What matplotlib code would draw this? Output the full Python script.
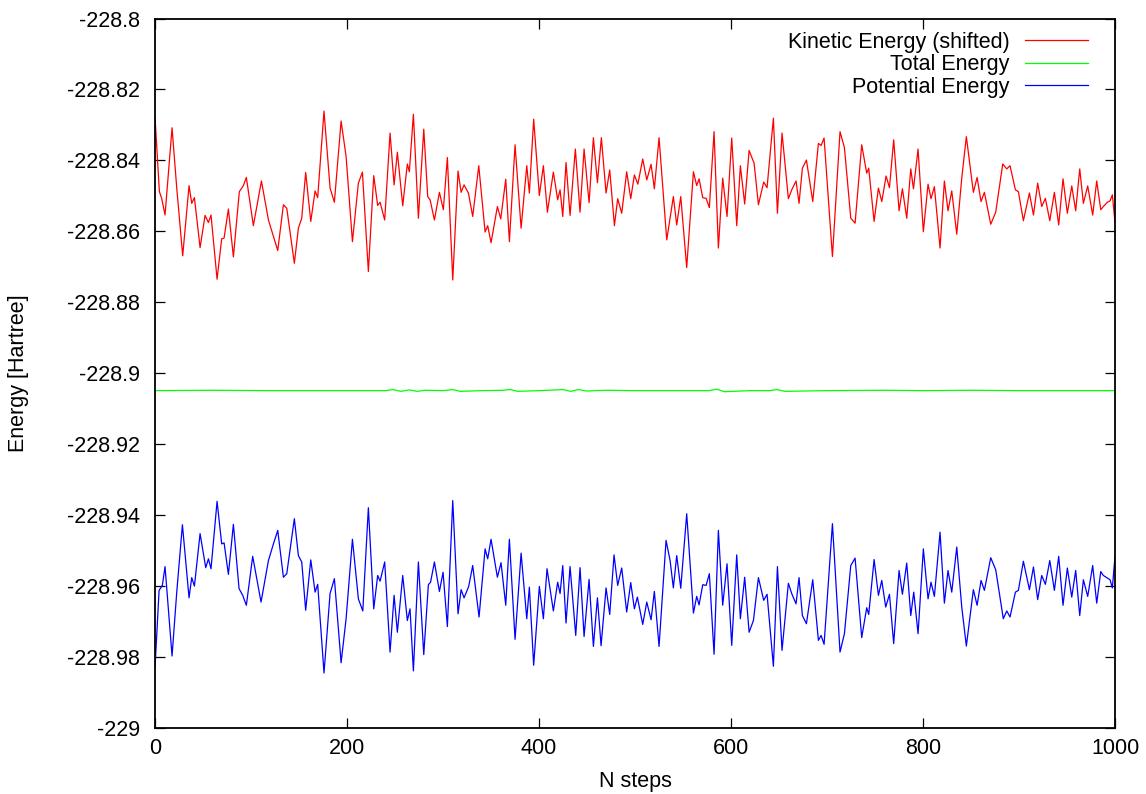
import matplotlib
matplotlib.use('Agg')
import matplotlib.pyplot as plt
from matplotlib.ticker import MultipleLocator, FormatStrFormatter

plt.rcParams['font.family'] = ['Liberation Sans', 'DejaVu Sans']

# Kinetic energy (shifted) at its turning points
ke_steps = [0, 4.5, 6.9, 10.4, 17.7, 22.6, 28.8, 35.4, 38.2, 41.0, 46.9, 52.1, 55.6, 58.3,
            64.6, 69.4, 71.9, 76.4, 81.6, 87.8, 92.0, 95.1, 102.4, 110.8, 118.1, 127.8,
            133.7, 137.2, 145.1, 149.3, 152.8, 156.9, 162.2, 166.7, 169.4, 176.0, 182.3,
            186.8, 193.8, 199.0, 205.6, 211.8, 216.0, 222.2, 227.8, 231.9, 234.4, 239.2,
            244.8, 249.0, 252.4, 258.0, 262.8, 264.9, 269.1, 274.3, 279.9, 284.0, 286.5,
            291.0, 296.2, 300.3, 304.5, 310.1, 315.6, 318.8, 321.9, 326.4, 330.9, 337.2,
            343.8, 346.5, 350.0, 356.6, 360.1, 365.3, 369.1, 375.0, 381.3, 387.2, 389.9,
            394.4, 400.3, 404.5, 408.7, 414.9, 419.4, 421.9, 424.7, 428.1, 432.3, 437.8,
            442.7, 446.9, 452.1, 456.6, 460.8, 464.9, 469.8, 473.6, 478.5, 481.9, 486.1,
            491.3, 495.5, 499.3, 502.9, 508.0, 512.2, 516.7, 520.1, 525.0, 533.0, 539.9,
            543.4, 547.6, 553.8, 560.8, 564.2, 566.7, 570.5, 574.0, 577.4, 582.3, 586.8,
            591.3, 595.8, 600.7, 605.9, 609.7, 614.2, 618.8, 624.0, 628.5, 634.0, 637.5,
            644.1, 648.3, 653.1, 659.7, 663.2, 667.7, 670.8, 674.3, 678.5, 685.1, 691.0,
            693.8, 696.9, 705.6, 713.5, 718.1, 724.7, 729.2, 736.1, 741.3, 743.4, 749.0,
            753.5, 757.0, 761.5, 765.0, 769.4, 775.0, 778.5, 783.0, 787.2, 790.0, 794.8,
            800.3, 805.2, 808.3, 811.8, 817.7, 822.2, 826.0, 829.9, 835.1, 840.3, 845.1,
            852.4, 856.3, 860.4, 863.9, 870.5, 875.7, 883.0, 887.2, 890.6, 896.2, 899.3,
            904.5, 910.8, 915.0, 919.4, 923.6, 927.4, 932.0, 936.8, 941.3, 945.8, 950.3,
            954.9, 959.0, 963.2, 967.0, 971.5, 976.7, 980.9, 985.1, 987.8, 992.0, 994.8,
            997.2, 1000]
ke_vals = [-228.8279, -228.8488, -228.8507, -228.8554, -228.8308, -228.8478, -228.8669,
           -228.8471, -228.8521, -228.8505, -228.8646, -228.8555, -228.8575, -228.8554,
           -228.8735, -228.8621, -228.8619, -228.8537, -228.8672, -228.8488, -228.8471,
           -228.8448, -228.8584, -228.8458, -228.8568, -228.8654, -228.8525, -228.8535,
           -228.8690, -228.8591, -228.8563, -228.8434, -228.8572, -228.8486, -228.8505,
           -228.8261, -228.8478, -228.8518, -228.8289, -228.8389, -228.8629, -228.8464,
           -228.8433, -228.8713, -228.8443, -228.8527, -228.8518, -228.8568, -228.8323,
           -228.8469, -228.8377, -228.8528, -228.8410, -228.8432, -228.8270, -228.8563,
           -228.8312, -228.8502, -228.8511, -228.8568, -228.8490, -228.8539, -228.8392,
           -228.8737, -228.8430, -228.8490, -228.8469, -228.8492, -228.8558, -228.8415,
           -228.8602, -228.8584, -228.8632, -228.8530, -228.8565, -228.8453, -228.8629,
           -228.8356, -228.8591, -228.8415, -228.8492, -228.8284, -228.8499, -228.8415,
           -228.8546, -228.8433, -228.8511, -228.8483, -228.8558, -228.8406, -228.8555,
           -228.8368, -228.8546, -228.8368, -228.8519, -228.8336, -228.8463, -228.8336,
           -228.8492, -228.8427, -228.8584, -228.8508, -228.8549, -228.8432, -228.8508,
           -228.8441, -228.8467, -228.8396, -228.8455, -228.8411, -228.8480, -228.8336,
           -228.8624, -228.8502, -228.8582, -228.8502, -228.8702, -228.8432, -228.8471,
           -228.8452, -228.8505, -228.8507, -228.8533, -228.8319, -228.8647, -228.8450,
           -228.8558, -228.8337, -228.8584, -228.8415, -228.8523, -228.8372, -228.8408,
           -228.8525, -228.8461, -228.8477, -228.8281, -228.8549, -228.8323, -228.8508,
           -228.8483, -228.8458, -228.8521, -228.8422, -228.8399, -228.8516, -228.8352,
           -228.8358, -228.8337, -228.8671, -228.8319, -228.8364, -228.8563, -228.8577,
           -228.8356, -228.8436, -228.8422, -228.8572, -228.8478, -228.8516, -228.8444,
           -228.8477, -228.8342, -228.8542, -228.8480, -228.8563, -228.8424, -228.8480,
           -228.8368, -228.8601, -228.8467, -228.8508, -228.8474, -228.8647, -228.8458,
           -228.8542, -228.8486, -228.8608, -228.8450, -228.8333, -228.8490, -228.8448,
           -228.8516, -228.8490, -228.8580, -228.8546, -228.8410, -228.8424, -228.8415,
           -228.8483, -228.8488, -228.8570, -228.8492, -228.8554, -228.8464, -228.8530,
           -228.8507, -228.8570, -228.8490, -228.8582, -228.8452, -228.8549, -228.8472,
           -228.8542, -228.8424, -228.8521, -228.8472, -228.8554, -228.8458, -228.8539,
           -228.8530, -228.8518, -228.8514, -228.8497, -228.8577]

# Total energy: flat with tiny ripples
tot_steps = [0, 60, 120, 180, 240, 248, 256, 265, 273, 281, 300, 310, 318, 340, 362, 370,
             378, 400, 425, 433, 441, 449, 470, 500, 540, 577, 585, 593, 620, 640, 648,
             656, 700, 760, 800, 850, 900, 950, 1000]
tot_vals = [-228.9049, -228.9048, -228.9049, -228.9049, -228.9049, -228.9046, -228.9051,
            -228.9047, -228.9051, -228.9048, -228.9049, -228.9046, -228.9051, -228.9049,
            -228.9048, -228.9046, -228.9051, -228.9049, -228.9046, -228.9051, -228.9046,
            -228.9050, -228.9048, -228.9049, -228.9049, -228.9049, -228.9045, -228.9052,
            -228.9049, -228.9049, -228.9046, -228.9051, -228.9049, -228.9048, -228.9049,
            -228.9048, -228.9049, -228.9049, -228.9049]

# Potential energy at its turning points
pe_steps = [0, 4.2, 7.6, 10.4, 17.7, 22.6, 28.5, 35.4, 38.2, 41.0, 46.9, 52.8, 55.6, 58.3,
            64.6, 69.4, 71.9, 76.4, 81.6, 87.5, 91.3, 95.1, 101.7, 110.4, 118.1, 123.3,
            127.8, 133.7, 137.2, 145.1, 149.3, 152.8, 156.9, 162.2, 166.7, 169.4, 176.0,
            182.3, 186.8, 193.8, 199.0, 205.6, 211.8, 216.4, 222.2, 227.8, 231.9, 234.4,
            239.2, 244.8, 249.0, 252.4, 258.0, 262.8, 265.6, 269.1, 274.3, 279.9, 284.7,
            287.0, 291.0, 296.2, 300.0, 304.5, 310.1, 315.6, 318.8, 321.9, 326.7, 330.9,
            337.5, 343.8, 346.5, 350.0, 356.6, 360.4, 365.3, 369.1, 375.0, 381.3, 387.2,
            389.9, 394.4, 400.3, 404.5, 408.3, 414.9, 419.4, 421.9, 424.7, 428.1, 432.3,
            438.2, 442.7, 446.9, 452.1, 456.6, 460.8, 464.6, 469.8, 473.6, 478.1, 481.9,
            486.1, 491.3, 495.5, 499.3, 502.4, 508.0, 512.2, 516.7, 520.1, 525.0, 532.3,
            536.5, 539.9, 543.4, 547.6, 553.8, 560.8, 564.2, 566.7, 570.5, 574.0, 577.4,
            582.3, 586.8, 591.3, 595.8, 600.7, 605.9, 609.7, 614.2, 618.8, 623.3, 628.5,
            634.0, 637.5, 644.1, 648.3, 653.1, 659.7, 663.2, 667.7, 670.8, 674.3, 678.5,
            685.1, 691.0, 693.8, 696.9, 705.6, 713.5, 718.1, 724.7, 729.2, 736.1, 741.3,
            743.4, 749.0, 753.5, 757.0, 761.1, 765.0, 769.4, 775.0, 778.5, 783.0, 787.2,
            790.3, 794.8, 800.3, 805.2, 808.3, 811.8, 817.7, 822.2, 826.0, 829.9, 835.1,
            840.3, 845.1, 852.4, 856.3, 860.4, 863.9, 870.5, 875.7, 883.6, 887.2, 890.6,
            896.2, 899.3, 904.5, 910.8, 915.0, 919.4, 923.6, 927.4, 932.0, 936.8, 941.3,
            945.8, 950.3, 954.9, 959.0, 963.2, 967.0, 971.5, 976.7, 980.9, 985.1, 987.8,
            991.3, 994.8, 997.2, 1000]
pe_vals = [-228.9828, -228.9612, -228.9598, -228.9545, -228.9797, -228.9617, -228.9427,
           -228.9633, -228.9576, -228.9600, -228.9452, -228.9548, -228.9523, -228.9551,
           -228.9361, -228.9481, -228.9478, -228.9567, -228.9426, -228.9607, -228.9626,
           -228.9654, -228.9516, -228.9645, -228.9528, -228.9481, -228.9443, -228.9575,
           -228.9565, -228.9410, -228.9514, -228.9532, -228.9668, -228.9526, -228.9617,
           -228.9595, -228.9845, -228.9621, -228.9579, -228.9816, -228.9692, -228.9468,
           -228.9636, -228.9670, -228.9379, -228.9664, -228.9570, -228.9586, -228.9532,
           -228.9786, -228.9626, -228.9730, -228.9570, -228.9697, -228.9664, -228.9839,
           -228.9532, -228.9793, -228.9596, -228.9589, -228.9532, -228.9615, -228.9561,
           -228.9714, -228.9359, -228.9678, -228.9610, -228.9633, -228.9601, -228.9542,
           -228.9687, -228.9495, -228.9523, -228.9468, -228.9575, -228.9534, -228.9654,
           -228.9468, -228.9750, -228.9507, -228.9692, -228.9603, -228.9823, -228.9601,
           -228.9692, -228.9551, -228.9670, -228.9589, -228.9621, -228.9542, -228.9704,
           -228.9545, -228.9739, -228.9548, -228.9742, -228.9581, -228.9770, -228.9633,
           -228.9768, -228.9605, -228.9680, -228.9512, -228.9598, -228.9549, -228.9673,
           -228.9590, -228.9664, -228.9631, -228.9708, -228.9645, -228.9695, -228.9615,
           -228.9770, -228.9471, -228.9528, -228.9605, -228.9514, -228.9606, -228.9396,
           -228.9676, -228.9629, -228.9653, -228.9596, -228.9598, -228.9565, -228.9792,
           -228.9443, -228.9654, -228.9537, -228.9767, -228.9512, -228.9692, -228.9575,
           -228.9730, -228.9697, -228.9576, -228.9640, -228.9623, -228.9826, -228.9545,
           -228.9781, -228.9592, -228.9621, -228.9650, -228.9576, -228.9683, -228.9706,
           -228.9582, -228.9753, -228.9739, -228.9764, -228.9424, -228.9786, -228.9734,
           -228.9542, -228.9521, -228.9745, -228.9661, -228.9680, -228.9525, -228.9626,
           -228.9584, -228.9659, -228.9623, -228.9762, -228.9556, -228.9623, -228.9535,
           -228.9683, -228.9617, -228.9734, -228.9495, -228.9636, -228.9589, -228.9629,
           -228.9448, -228.9648, -228.9556, -228.9617, -228.9490, -228.9659, -228.9769,
           -228.9610, -228.9654, -228.9584, -228.9612, -228.9520, -228.9554, -228.9692,
           -228.9670, -228.9687, -228.9617, -228.9612, -228.9530, -228.9610, -228.9546,
           -228.9638, -228.9570, -228.9595, -228.9528, -228.9612, -228.9516, -228.9654,
           -228.9549, -228.9631, -228.9556, -228.9683, -228.9582, -228.9629, -228.9542,
           -228.9648, -228.9559, -228.9570, -228.9576, -228.9582, -228.9605, -228.9514]

fig = plt.figure(figsize=(11.46, 7.94), dpi=100)
ax = fig.add_axes([0.1353, 0.0831, 0.8377, 0.8936])

ax.plot(ke_steps, ke_vals, color='#ff0000', lw=0.9, label='Kinetic Energy (shifted)')
ax.plot(tot_steps, tot_vals, color='#00ff00', lw=0.9, label='Total Energy')
ax.plot(pe_steps, pe_vals, color='#0000ff', lw=0.9, label='Potential Energy')

ax.set_xlim(0, 1000)
ax.set_ylim(-229, -228.8)
ax.xaxis.set_major_locator(MultipleLocator(200))
ax.yaxis.set_major_locator(MultipleLocator(0.02))
ax.yaxis.set_major_formatter(FormatStrFormatter('%g'))
ax.tick_params(direction='in', length=7, width=0.9, top=True, right=True, labelsize=15.5)
ax.tick_params(axis='y', pad=11)
ax.tick_params(axis='x', pad=7)
for s in ax.spines.values():
    s.set_linewidth(1.3)

ax.set_xlabel('N steps', fontsize=15.5)
ax.set_ylabel('Energy [Hartree]', fontsize=15.5)
ax.xaxis.set_label_coords(0.5, -0.06)
ax.yaxis.set_label_coords(-0.131, 0.5)

ax.legend(loc='upper right', bbox_to_anchor=(0.972, 0.981), frameon=False,
          markerfirst=False, fontsize=15.5, handlelength=2.95, handletextpad=0.71,
          labelspacing=0.06, borderaxespad=0, borderpad=0)

fig.savefig('out.png', dpi=100)
